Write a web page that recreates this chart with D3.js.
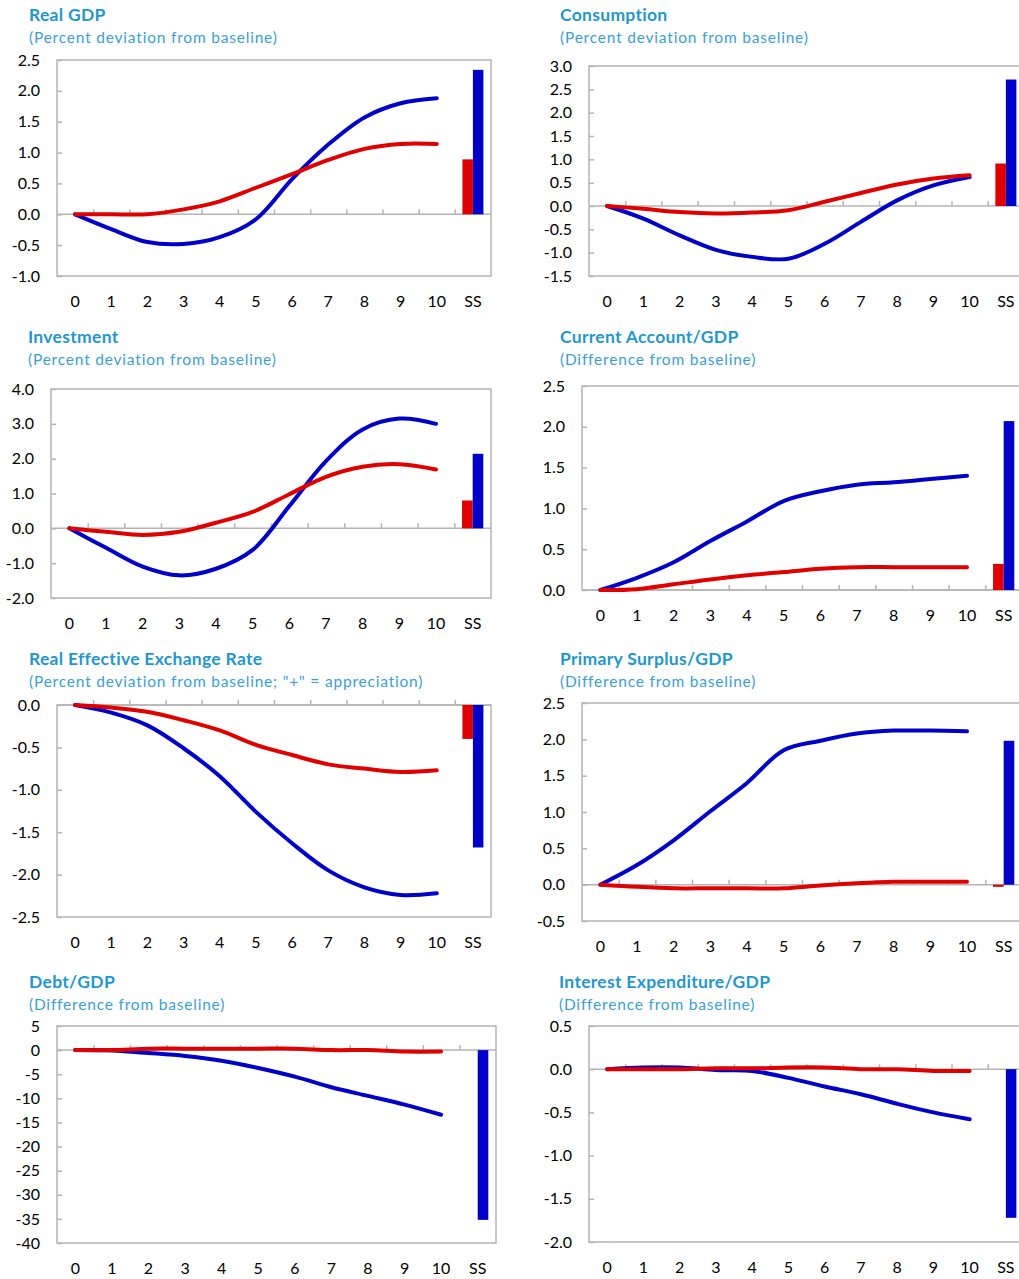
<!DOCTYPE html>
<html>
<head>
<meta charset="utf-8">
<script src="https://cdn.jsdelivr.net/npm/d3@7"></script>
<style>
body { margin: 0; background: #fff; }
text { font-family: Lato, "Open Sans", sans-serif; }
</style>
</head>
<body>
<div id="chart"></div>
<script>
// Chart data
const categories = ["0", "1", "2", "3", "4", "5", "6", "7", "8", "9", "10", "SS"];
const years = categories.slice(0, 11);

const gdpBlue = [0, -0.24, -0.45, -0.48, -0.37, -0.08, 0.57, 1.13, 1.57, 1.80, 1.88];
const gdpRed = [0, 0.0, 0.0, 0.08, 0.21, 0.43, 0.65, 0.88, 1.06, 1.14, 1.14];
const gdpSS = [0.89, 2.34];
const gdpTicks = [-1.0, -0.5, 0.0, 0.5, 1.0, 1.5, 2.0, 2.5];

const consBlue = [0, -0.27, -0.63, -0.94, -1.09, -1.13, -0.81, -0.34, 0.12, 0.44, 0.62];
const consRed = [0, -0.06, -0.13, -0.16, -0.14, -0.09, 0.09, 0.28, 0.46, 0.59, 0.66];
const consSS = [0.91, 2.71];
const consTicks = [-1.5, -1.0, -0.5, 0.0, 0.5, 1.0, 1.5, 2.0, 2.5, 3.0];

const invBlue = [0, -0.56, -1.10, -1.35, -1.16, -0.62, 0.64, 1.93, 2.84, 3.15, 3.0];
const invRed = [0, -0.10, -0.19, -0.10, 0.16, 0.47, 0.98, 1.48, 1.77, 1.84, 1.69];
const invSS = [0.80, 2.14];
const invTicks = [-2.0, -1.0, 0.0, 1.0, 2.0, 3.0, 4.0];

const caBlue = [0, 0.15, 0.34, 0.60, 0.84, 1.09, 1.21, 1.29, 1.32, 1.36, 1.40];
const caRed = [0, 0.01, 0.07, 0.13, 0.18, 0.22, 0.26, 0.28, 0.28, 0.28, 0.28];
const caSS = [0.32, 2.07];
const caTicks = [0.0, 0.5, 1.0, 1.5, 2.0, 2.5];

const reerBlue = [0, -0.09, -0.24, -0.51, -0.84, -1.26, -1.63, -1.95, -2.15, -2.24, -2.22];
const reerRed = [0, -0.03, -0.08, -0.18, -0.30, -0.47, -0.59, -0.70, -0.75, -0.79, -0.77];
const reerSS = [-0.40, -1.68];
const reerTicks = [-2.5, -2.0, -1.5, -1.0, -0.5, 0.0];

const psBlue = [0, 0.27, 0.61, 1.01, 1.40, 1.85, 1.98, 2.08, 2.12, 2.12, 2.11];
const psRed = [0, -0.03, -0.05, -0.05, -0.05, -0.05, -0.01, 0.02, 0.04, 0.04, 0.04];
const psSS = [-0.03, 1.98];
const psTicks = [-0.5, 0.0, 0.5, 1.0, 1.5, 2.0, 2.5];

const debtBlue = [0, -0.1, -0.6, -1.2, -2.2, -3.7, -5.5, -7.7, -9.5, -11.3, -13.4];
const debtRed = [0, 0.0, 0.3, 0.3, 0.3, 0.3, 0.3, 0.0, 0.0, -0.3, -0.3];
const debtSS = [0.0, -35.2];
const debtTicks = [-40, -35, -30, -25, -20, -15, -10, -5, 0, 5];

const intBlue = [0, 0.02, 0.02, -0.01, -0.02, -0.10, -0.20, -0.29, -0.40, -0.50, -0.58];
const intRed = [0, 0.0, 0.0, 0.01, 0.01, 0.02, 0.02, 0.0, 0.0, -0.02, -0.02];
const intSS = [0.0, -1.72];
const intTicks = [-2.0, -1.5, -1.0, -0.5, 0.0, 0.5];

const BLUE = "#0000c8", RED = "#e00000", GRID = "#b4b4b4";

// panel layout: box = [left, top, right, bottom] of the plot frame
const panels = [
    {title: "Real GDP", sub: "(Percent deviation from baseline)", blue: gdpBlue, red: gdpRed, ss: gdpSS, ticks: gdpTicks, fmt: 1, box: [57, 60, 491, 276], tx: 29, ty: 15},
    {title: "Consumption", sub: "(Percent deviation from baseline)", blue: consBlue, red: consRed, ss: consSS, ticks: consTicks, fmt: 1, box: [589, 66, 1024, 276], tx: 560, ty: 15},
    {title: "Investment", sub: "(Percent deviation from baseline)", blue: invBlue, red: invRed, ss: invSS, ticks: invTicks, fmt: 1, box: [51, 389, 491, 598], tx: 28, ty: 337},
    {title: "Current Account/GDP", sub: "(Difference from baseline)", blue: caBlue, red: caRed, ss: caSS, ticks: caTicks, fmt: 1, box: [582, 386, 1022, 590], tx: 560, ty: 337},
    {title: "Real Effective Exchange Rate", sub: "(Percent deviation from baseline; \"+\" = appreciation)", blue: reerBlue, red: reerRed, ss: reerSS, ticks: reerTicks, fmt: 1, box: [57, 705, 491, 917], tx: 29, ty: 659},
    {title: "Primary Surplus/GDP", sub: "(Difference from baseline)", blue: psBlue, red: psRed, ss: psSS, ticks: psTicks, fmt: 1, box: [582, 703, 1022, 921], tx: 560, ty: 659},
    {title: "Debt/GDP", sub: "(Difference from baseline)", blue: debtBlue, red: debtRed, ss: debtSS, ticks: debtTicks, fmt: 0, box: [57, 1026, 496, 1243], tx: 29, ty: 982},
    {title: "Interest Expenditure/GDP", sub: "(Difference from baseline)", blue: intBlue, red: intRed, ss: intSS, ticks: intTicks, fmt: 1, box: [589, 1026, 1024, 1242], tx: 559, ty: 982}
];

let svg = d3.select("#chart")
    .append("svg")
    .attr("width", 1019)
    .attr("height", 1279);

panels.forEach(function(p) {
    let [x0, y0, x1, y1] = p.box;
    let g = svg.append("g");

    let x = d3.scaleBand()
        .domain(categories)
        .range([x0, x1])
        .padding(0);
    let xb = d3.scaleLinear().domain([0, categories.length]).range([x0, x1]);
    let y = d3.scaleLinear()
        .domain(d3.extent(p.ticks))
        .range([y1, y0]);

    g.append("text")
        .attr("x", p.tx)
        .attr("y", p.ty)
        .attr("dy", "0.35em")
        .style("font-size", "17.5px")
        .style("font-weight", "bold")
        .style("letter-spacing", "0.3px")
        .style("fill", "#1f97cc")
        .text(p.title);
    g.append("text")
        .attr("x", p.tx)
        .attr("y", p.ty + 23)
        .attr("dy", "0.35em")
        .style("font-size", "15.5px")
        .style("letter-spacing", "0.8px")
        .style("fill", "#3a9fd6")
        .text(p.sub);

    g.append("rect")
        .attr("x", x0)
        .attr("y", y0)
        .attr("width", x1 - x0)
        .attr("height", y1 - y0)
        .attr("fill", "none")
        .attr("stroke", GRID)
        .attr("stroke-width", 1.5);

    let yAxis = g.append("g")
        .attr("transform", `translate(${x0},0)`)
        .call(d3.axisLeft(y)
            .tickValues(p.ticks)
            .tickSize(-5)
            .tickPadding(17)
            .tickFormat(d => d.toFixed(p.fmt)));
    yAxis.select(".domain").remove();
    yAxis.selectAll("line").attr("stroke", GRID).attr("stroke-width", 1.5);
    yAxis.selectAll("text").style("font-size", "16px").style("fill", "#000").style("font-family", "Lato, sans-serif");

    // zero line with boundary ticks
    let zero = g.append("g")
        .attr("transform", `translate(0,${y(0)})`)
        .call(d3.axisTop(xb)
            .tickValues(d3.range(1, categories.length))
            .tickSize(5)
            .tickFormat(""));
    zero.select(".domain").attr("stroke", GRID).attr("stroke-width", 1.5).attr("d", `M${x0},0H${x1}`);
    zero.selectAll("line").attr("stroke", GRID).attr("stroke-width", 1.5);

    let xAxis = g.append("g")
        .attr("transform", `translate(0,${y1})`)
        .call(d3.axisBottom(x).tickSize(0).tickPadding(20));
    xAxis.select(".domain").remove();
    xAxis.selectAll("text").style("font-size", "16px").style("fill", "#000").style("font-family", "Lato, sans-serif");

    // steady-state bars
    let bw = x.bandwidth() * 0.29;
    let cx = x("SS") + x.bandwidth() / 2;
    g.selectAll("rect.ss")
        .data([{v: p.ss[0], c: RED, off: -bw}, {v: p.ss[1], c: BLUE, off: 0}])
        .enter()
        .append("rect")
        .attr("class", "ss")
        .attr("x", d => cx + d.off)
        .attr("y", d => Math.min(y(0), y(d.v)))
        .attr("width", bw)
        .attr("height", d => Math.abs(y(d.v) - y(0)))
        .attr("fill", d => d.c);

    let line = d3.line()
        .x((d, i) => x(years[i]) + x.bandwidth() / 2)
        .y(d => y(d))
        .curve(d3.curveCatmullRom.alpha(0.5));

    [[p.blue, BLUE], [p.red, RED]].forEach(function(s) {
        g.append("path")
            .datum(s[0])
            .attr("d", line)
            .attr("fill", "none")
            .attr("stroke", s[1])
            .attr("stroke-width", 4)
            .attr("stroke-linecap", "round")
            .attr("stroke-linejoin", "round");
    });
});
</script>
</body>
</html>
